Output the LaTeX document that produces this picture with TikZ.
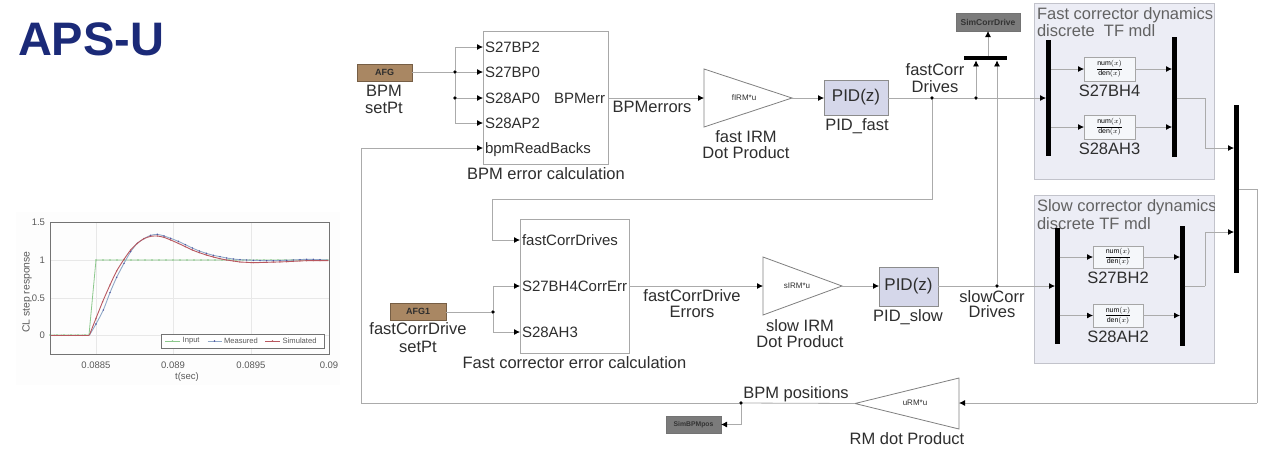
\documentclass[tikz,border=0pt]{standalone}
\usepackage{fontspec}
\setmainfont{Liberation Sans}
\usetikzlibrary{arrows.meta}
\definecolor{navy}{HTML}{1B2A78}
\definecolor{wire}{HTML}{ABABAB}
\definecolor{edge}{HTML}{A8A8A8}
\definecolor{ink}{HTML}{2E2E2E}
\definecolor{panelfill}{HTML}{ECEDF5}
\definecolor{paneledge}{HTML}{C2C3CB}
\definecolor{afgfill}{HTML}{A98763}
\definecolor{pidfill}{HTML}{D5D7EA}
\definecolor{sinkfill}{HTML}{7B7B7B}
\definecolor{tfill}{HTML}{F5F7FA}
\definecolor{plotgreen}{HTML}{8CC88C}
\definecolor{plotblue}{HTML}{8FA8C8}
\definecolor{plotred}{HTML}{B8575F}
\definecolor{plottext}{HTML}{5A5A5A}
\newcommand{\fs}[1]{\fontsize{#1}{#1}\selectfont}
\newcommand{\tfrac}{$\displaystyle\frac{\mathrm{num}(x)}{\mathrm{den}(x)}$}
\tikzset{
  x=1pt,y=-1pt,
  every node/.style={inner sep=0pt,outer sep=0pt},
  lab/.style={font=\fs{16.5},text=ink,text height=11.9pt,text depth=0pt},
  portlab/.style={font=\fs{15},text=ink,text height=10.8pt,text depth=0pt},
  ptitle/.style={font=\fs{16.5},text=ink!75,text height=11.9pt,text depth=0pt,anchor=west},
  blockbox/.style={draw=edge,line width=0.9pt,fill=white,anchor=north west},
  afgbox/.style={draw=afgfill!70!black,line width=0.8pt,fill=afgfill,anchor=north west,font=\bfseries\fs{9},text=ink},
  pidbox/.style={draw=black!45,line width=0.8pt,fill=pidfill,anchor=north west,font=\fs{17},text=ink},
  tfbox/.style={draw=black!35,line width=0.9pt,fill=tfill,anchor=north west,font=\fs{7}},
  sinkbox/.style={draw=black!55,line width=0.8pt,fill=sinkfill,anchor=north west,font=\bfseries\fs{8.5},text=black!80},
  barbox/.style={fill=black,anchor=north west},
  panelbox/.style={draw=paneledge,line width=0.9pt,fill=panelfill,anchor=north west},
  gainbox/.style={font=\fs{8},text=ink},
  junc/.style={circle,fill=black,minimum size=3.6pt},
  wireline/.style={draw=wire,line width=0.8pt},
  arr/.style={wireline,-{Latex[black,length=6pt,width=6pt]}},
  tick/.style={font=\fs{9.5},text=plottext},
  leg/.style={font=\fs{7.6},text=plottext,anchor=west}
}
\begin{document}
\begin{tikzpicture}
\useasboundingbox (0,0) rectangle (1268,451);
\fill[white] (0,0) rectangle (1268,451);

% title
\node[anchor=west,font=\bfseries\fs{47},text=navy,text height=33.8pt,text depth=0pt] (title) at (18,39) {APS-U};

% plot
\fill[black!0.8] (16,212) rectangle (340,385);
\begin{scope}
\draw[black!9,line width=0.6pt] (96,222)--(96,354) (173,222)--(173,354) (251,222)--(251,354)
  (50,260)--(329,260) (50,298)--(329,298) (50,335)--(329,335);
\draw[plotgreen,line width=0.8pt] (50,335)--(89,335)--(96,260)--(329,260);
\foreach \px in {50,57,...,85}{\fill[plotgreen] (\px,335) circle (0.8pt);}
\foreach \px in {96,103,...,329}{\fill[plotgreen] (\px,260) circle (0.8pt);}
\begin{scope}[shift={(0,200)},x=0.3333pt,y=-0.3333pt]
\draw[plotblue,line width=0.9pt] (150,406)--(268,406);
\draw[plotblue,line width=0.9pt] plot[smooth,tension=0.4] coordinates {(268,406)(288,372)(310,330)(330,278)(350,232)(372,190)(392,155)(412,130)(432,116)(452,106)(472,103)(492,108)(512,115)(535,124)(556,134)(577,144)(598,153)(619,160)(640,166)(660,170)(680,174)(700,177)(720,179)(740,180)(760,181)(800,182)(860,181)(920,178)(985,180)};
\foreach \a/\b in {288/372,310/330,330/278,350/232,372/190,392/155,412/130,432/116,452/106,472/103,492/108,512/115,535/124,556/134,577/144,598/153,619/160,640/166,660/170,680/174,700/177,720/179,740/180,760/181,780/181,800/182,820/182,840/181,860/181,880/180,900/179,920/178,940/178,960/179}{\fill[black!55!blue!70] (\a,\b) circle (2.4);}
\draw[plotred,line width=0.9pt] (150,406)--(268,406);
\draw[plotred,line width=0.9pt] plot[smooth,tension=0.4] coordinates {(268,406)(288,355)(308,305)(330,255)(350,213)(372,178)(392,150)(412,130)(432,116)(452,109)(472,108)(492,112)(512,120)(535,130)(556,140)(577,150)(598,158)(619,165)(640,171)(660,176)(680,180)(700,183)(720,186)(740,187)(760,188)(800,187)(860,185)(920,182)(985,182)};
\foreach \a/\b in {163/406,184/406,205/406,226/406,247/406,288/355,308/305,330/255,350/213,372/178,392/150,412/130,432/116,452/109,472/108,492/112,512/120,535/130,556/140,577/150,598/158,619/165,640/171,660/176,680/180,700/183,720/186,740/187,760/188,780/187,800/187,820/186,840/186,860/185,880/184,900/183,920/182,940/182,960/182}{\fill[plotred] (\a,\b) circle (2.2);}
\end{scope}
\draw[black!55,line width=0.7pt] (50,222) rectangle (329,354);
\end{scope}
\foreach \ty/\tl in {222/1.5,260/1,298/0.5,335/0}{\node[tick,anchor=east] at (45,\ty) {\tl};}
\foreach \tx/\tl in {96/0.0885,173/0.089,251/0.0895,329/0.09}{\node[tick] at (\tx,365) {\tl};}
\node[tick] (xlab) at (187,377) {t(sec)};
\node[tick,font=\fs{10.4},rotate=90] (ylab) at (27,292) {CL step response};
\draw[black!55,line width=0.6pt,fill=white] (161,334) rectangle (324,348);
\draw[plotgreen,line width=0.8pt] (165,341)--(180,341);
\fill[plotgreen] (172.5,341) circle (0.8pt);
\node[leg] (lg1) at (182.7,341) {Input};
\draw[plotblue,line width=0.8pt] (207.5,341)--(221.7,341);
\fill[black!55!blue!70] (214.5,341) circle (0.8pt);
\node[leg] (lg2) at (224,341) {Measured};
\draw[plotred,line width=0.8pt] (265,341)--(280,341);
\fill[plotred] (272.5,341) circle (0.8pt);
\node[leg] (lg3) at (282.7,341) {Simulated};

% panels
\node[panelbox,minimum width=180pt,minimum height=176pt] (pf) at (1034,3) {};
\node[panelbox,minimum width=180pt,minimum height=168pt] (ps) at (1034,195) {};
\begin{scope}
\clip (1034,0) rectangle (1214,451);
\node[ptitle] (pft1) at (1037,14) {Fast corrector dynamics};
\node[ptitle] (pft2) at (1037,31) {discrete\ \ TF mdl};
\node[ptitle] (pst1) at (1037,206) {Slow corrector dynamics};
\node[ptitle] (pst2) at (1037,224) {discrete TF mdl};
\end{scope}

% blocks
\node[afgbox,minimum width=55pt,minimum height=17pt] (afg) at (357,64) {AFG};
\node[blockbox,minimum width=125pt,minimum height=133pt] (bpm) at (483,31) {};
\node[afgbox,minimum width=56pt,minimum height=17pt] (afg1) at (390,303) {AFG1};
\node[blockbox,minimum width=109pt,minimum height=134pt] (fce) at (520,219) {};
\node[pidbox,minimum width=64pt,minimum height=35pt] (pidf) at (824,80) {PID(z)};
\node[pidbox,minimum width=59pt,minimum height=39pt] (pids) at (879,267) {PID(z)};
\node[sinkbox,minimum width=64pt,minimum height=18pt] (simc) at (956,13) {SimCorrDrive};
\node[sinkbox,font=\bfseries\fs{6.8},minimum width=55pt,minimum height=17pt] (simb) at (666,416) {SimBPMpos};

% gains (triangles)
\node[gainbox,minimum width=88pt,minimum height=58pt] (g1) at (748,98) {};
\draw[draw=black!50,line width=0.8pt] (g1.north west)--(g1.east)--(g1.south west)--cycle;
\node[gainbox] (g1t) at (744,98) {fIRM*u};
\node[gainbox,minimum width=79pt,minimum height=58pt] (g2) at (802.5,286) {};
\draw[draw=black!50,line width=0.8pt] (g2.north west)--(g2.east)--(g2.south west)--cycle;
\node[gainbox] (g2t) at (797,286) {sIRM*u};
\node[gainbox,minimum width=104pt,minimum height=51pt] (g3) at (907,403.5) {};
\draw[draw=black!50,line width=0.8pt] (g3.north east)--(g3.west)--(g3.south east)--cycle;
\node[gainbox] (g3t) at (915,403) {uRM*u};

% bars
\node[barbox,minimum width=5pt,minimum height=116pt] (bf1) at (1046,40) {};
\node[barbox,minimum width=4.5pt,minimum height=120pt] (bf2) at (1172,37) {};
\node[barbox,minimum width=4.5pt,minimum height=116pt] (bs1) at (1055,228) {};
\node[barbox,minimum width=4.5pt,minimum height=120pt] (bs2) at (1180,226) {};
\node[barbox,minimum width=5pt,minimum height=168pt] (bout) at (1234,105) {};
\node[barbox,minimum width=43pt,minimum height=4.4pt] (bmux) at (964,56) {};

% TF blocks
\node[tfbox,minimum width=51pt,minimum height=24pt] (t1) at (1084,57) {\tfrac};
\node[tfbox,minimum width=51pt,minimum height=24pt] (t2) at (1084,115) {\tfrac};
\node[tfbox,minimum width=50pt,minimum height=22pt] (t3) at (1093,246) {\tfrac};
\node[tfbox,minimum width=50pt,minimum height=23pt] (t4) at (1093,304) {\tfrac};

% port labels
\node[portlab,anchor=west] (pa) at (485,47) {S27BP2};
\node[portlab,anchor=west] (pb) at (485,72) {S27BP0};
\node[portlab,anchor=west] (pc) at (485,98) {S28AP0};
\node[portlab,anchor=west] (pd) at (485,123) {S28AP2};
\node[portlab,anchor=west] (pe) at (485,148) {bpmReadBacks};
\node[portlab,anchor=east] (pbo) at (605,98) {BPMerr};
\node[portlab,anchor=west] (qa) at (522,240) {fastCorrDrives};
\node[portlab,anchor=west] (qb) at (522,286) {S27BH4};
\node[portlab,anchor=west] (qc) at (522,332) {S28AH3};
\node[portlab,anchor=east] (qo) at (627,286) {CorrErr};

% text labels
\node[lab] (l1) at (384,91) {BPM};
\node[lab] (l2) at (384,108) {setPt};
\node[lab] (l3) at (546,174) {BPM error calculation};
\node[lab] (l4) at (652,107) {BPMerrors};
\node[lab] (l5) at (746,137) {fast IRM};
\node[lab] (l6) at (746,153) {Dot Product};
\node[lab] (l7) at (857,125) {PID\_fast};
\node[lab] (l8) at (935,70) {fastCorr};
\node[lab] (l9) at (935,87) {Drives};
\node[lab] (l10) at (1109.5,91) {S27BH4};
\node[lab] (l11) at (1109.5,149) {S28AH3};
\node[lab] (l12) at (1118,278) {S27BH2};
\node[lab] (l13) at (1118,337) {S28AH2};
\node[lab] (l14) at (418,329) {fastCorrDrive};
\node[lab] (l15) at (418,347) {setPt};
\node[lab] (l16) at (574.5,363) {Fast corrector error calculation};
\node[lab] (l17) at (692,296) {fastCorrDrive};
\node[lab] (l18) at (692,312) {Errors};
\node[lab] (l19) at (800,326) {slow IRM};
\node[lab] (l20) at (800,342) {Dot Product};
\node[lab] (l21) at (908,316) {PID\_slow};
\node[lab] (l22) at (992,297) {slowCorr};
\node[lab] (l23) at (992,312) {Drives};
\node[lab] (l24) at (796,393) {BPM positions};
\node[lab] (l25) at (907,439) {RM dot Product};

% junctions
\node[junc] (j1) at (455,72) {};
\node[junc] (j2) at (455,98) {};
\node[junc] (j3) at (932,98) {};
\node[junc] (j4) at (976,98) {};
\node[junc] (j5) at (997,286) {};
\node[junc] (j6) at (493,312) {};
\node[junc] (j7) at (741,403) {};
\coordinate (c1) at (492,199);
\coordinate (c2) at (361,403);
\coordinate (c3) at (1205,98);
\coordinate (c4) at (1205,286);
\coordinate (c5) at (1257,189);
\coordinate (c6) at (1257,403);
\coordinate (c7) at (1237,148);
\coordinate (c8) at (1237,232);

% connectors
\draw[wireline] (afg.east |- j1) -- (j1);
\draw[wireline] (j1) -- (j2);
\draw[arr] (j1) |- (bpm.west |- pa.west);
\draw[arr] (j1) -- (bpm.west |- pb.west);
\draw[arr] (j2) -- (bpm.west |- pc.west);
\draw[arr] (j2) |- (bpm.west |- pd.west);
\draw[arr] (bpm.east |- g1.west) -- (g1.west);
\draw[arr] (g1.east) -- (pidf.west |- g1.east);
\draw[wireline] (pidf.east |- j3) -- (j3);
\draw[wireline] (j3) -- (j4);
\draw[arr] (j4) -- (bf1.west |- j4);
\draw[arr] (j4) -- (j4 |- bmux.south);
\draw[arr] (j5) -- (j5 |- bmux.south);
\draw[arr] (simc.south |- bmux.north) -- (simc.south);
\draw[wireline] (j3) |- (c1);
\draw[arr] (c1) |- (fce.west |- qa.west);
\draw[wireline] (afg1.east |- j6) -- (j6);
\draw[arr] (j6) |- (fce.west |- qb.west);
\draw[arr] (j6) |- (fce.west |- qc.west);
\draw[arr] (fce.east |- g2.west) -- (g2.west);
\draw[arr] (g2.east) -- (pids.west |- g2.east);
\draw[wireline] (pids.east |- j5) -- (j5);
\draw[arr] (j5) -- (bs1.west |- j5);
\draw[arr] (bf1.east |- t1.west) -- (t1.west);
\draw[arr] (bf1.east |- t2.west) -- (t2.west);
\draw[arr] (t1.east) -- (bf2.west |- t1.east);
\draw[arr] (t2.east) -- (bf2.west |- t2.east);
\draw[arr] (bs1.east |- t3.west) -- (t3.west);
\draw[arr] (bs1.east |- t4.west) -- (t4.west);
\draw[arr] (t3.east) -- (bs2.west |- t3.east);
\draw[arr] (t4.east) -- (bs2.west |- t4.east);
\draw[wireline] (bf2.east |- c3) -- (c3);
\draw[arr] (c3) |- (bout.west |- c7);
\draw[wireline] (bs2.east |- c4) -- (c4);
\draw[arr] (c4) |- (bout.west |- c8);
\draw[wireline] (bout.east |- c5) -- (c5) -- (c6);
\draw[arr] (c6) -- (g3.east |- c6);
\draw[wireline] (g3.west) -- (j7);
\draw[wireline] (j7) -- (c2);
\draw[arr] (c2) |- (bpm.west |- pe.west);
\draw[arr] (j7) |- (simb.east);
\end{tikzpicture}
\end{document}
